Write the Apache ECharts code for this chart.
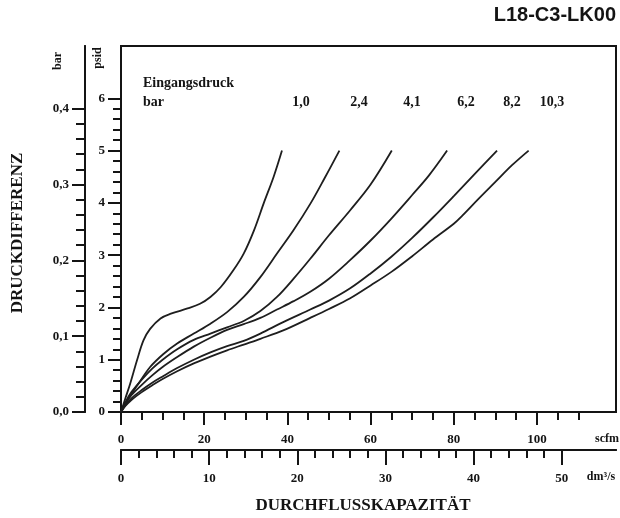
<!DOCTYPE html>
<html>
<head>
<meta charset="utf-8">
<script src="https://cdn.jsdelivr.net/npm/echarts@6/dist/echarts.min.js"></script>
<style>
html,body{margin:0;padding:0;background:#fff;}
#chart{width:620px;height:518px;}
</style>
</head>
<body>
<div id="chart"></div>
<script>
// Inlet pressure curves (Eingangsdruck, bar): [scfm, psid]
const pressureLabels = ['1,0', '2,4', '4,1', '6,2', '8,2', '10,3'];
const curve10 = [[0,0],[1,0.25],[2.2,0.54],[3.85,0.99],[5.4,1.37],[7,1.59],[9.5,1.79],[12,1.88],[16,1.98],[19,2.07],[21.5,2.2],[24,2.39],[27,2.71],[29.5,3.03],[32,3.48],[34.3,3.99],[36.7,4.5],[38.7,5.0]];
const curve24 = [[0,0],[1.5,0.22],[3.85,0.5],[7,0.86],[10.2,1.11],[13.5,1.31],[17.5,1.5],[21.5,1.69],[25.5,1.91],[29.5,2.2],[33.5,2.58],[37.5,3.03],[41.5,3.48],[45.5,3.98],[49,4.48],[52.5,5.0]];
const curve41 = [[0,0],[1,0.18],[2.5,0.38],[5,0.62],[7.5,0.83],[10,1.0],[13.5,1.2],[17.5,1.38],[21.5,1.5],[25.5,1.62],[29.5,1.74],[33.5,1.93],[37.5,2.2],[41.5,2.55],[45.5,2.93],[50,3.38],[55,3.85],[60,4.35],[65.1,5.0]];
const curve62 = [[0,0],[1,0.15],[2.5,0.32],[5,0.52],[7.5,0.7],[10,0.86],[13.5,1.05],[17.5,1.25],[21.5,1.42],[25.5,1.57],[29.5,1.68],[33.5,1.8],[37.5,1.96],[41.5,2.12],[45.5,2.3],[50,2.55],[55,2.9],[60,3.28],[65,3.7],[70,4.15],[74,4.52],[78.4,5.0]];
const curve82 = [[0,0],[1,0.12],[2.5,0.26],[5,0.42],[7.5,0.56],[10,0.68],[13.5,0.84],[17.5,1.0],[21.5,1.14],[25.5,1.26],[29.5,1.36],[33.5,1.5],[39,1.72],[45.5,1.96],[50,2.13],[55,2.36],[60,2.65],[65,2.97],[70,3.33],[75,3.72],[80,4.13],[85,4.55],[90.4,5.0]];
const curve103 = [[0,0],[1,0.11],[2.5,0.23],[5,0.38],[7.5,0.51],[10,0.63],[13.5,0.78],[17.5,0.93],[21.5,1.06],[25.5,1.18],[29.5,1.29],[33.5,1.4],[39,1.56],[45.5,1.8],[50,1.97],[55,2.17],[60,2.42],[65,2.68],[70,2.98],[75,3.3],[80,3.6],[82,3.75],[86,4.08],[90,4.4],[94,4.72],[98,5.0]];
const curves = [curve10, curve24, curve41, curve62, curve82, curve103];

// Axis ticks / labels
const scfmMajor = [0, 20, 40, 60, 80, 100];
const scfmMinor = [5,10,15,25,30,35,45,50,55,65,70,75,85,90,95,105,110];
const dmMajor = [0, 10, 20, 30, 40, 50];
const dmMinor = [2,4,6,8,12,14,16,18,22,24,26,28,32,34,36,38,42,44,46,48];
const psidMajor = [0, 1, 2, 3, 4, 5, 6];
const psidMinor = [0.2,0.4,0.6,0.8,1.2,1.4,1.6,1.8,2.2,2.4,2.6,2.8,3.2,3.4,3.6,3.8,4.2,4.4,4.6,4.8,5.2,5.4,5.6,5.8];
const barMajor = [0, 0.1, 0.2, 0.3, 0.4];
const barMinor = [0.02,0.04,0.06,0.08,0.12,0.14,0.16,0.18,0.22,0.24,0.26,0.28,0.32,0.34,0.36,0.38];

const SCFM_MAX = 119;
const PSID_MAX = 7;
const BAR_PER_PSI = 0.0689476;
const DM3S_PER_SCFM = 0.4719474;

const INK = '#141414';
const SERIF = '"Liberation Serif", "DejaVu Serif", serif';

function axisBase(extra) {
  return Object.assign({
    type: 'value',
    gridIndex: 0,
    splitLine: { show: false },
    axisLine: { show: false, onZero: false },
    axisTick: { show: false },
    axisLabel: { show: false }
  }, extra);
}

const chart = echarts.init(document.getElementById('chart'), null, { renderer: 'canvas' });

const tickLabelStyle = { color: INK, fontFamily: SERIF, fontSize: 13, fontWeight: 'bold' };
const tickLine = { color: INK, width: 2 };

const option = {
  animation: false,
  backgroundColor: '#fff',
  grid: {
    left: 121, right: 4, top: 46, bottom: 106,
    show: true, borderColor: INK, borderWidth: 2, backgroundColor: 'transparent'
  },
  xAxis: [
    axisBase({
      min: 0, max: SCFM_MAX, position: 'bottom',
      axisLine: { show: true, onZero: false, lineStyle: tickLine },
      axisTick: { show: true, customValues: scfmMajor, length: 13, lineStyle: tickLine },
      axisLabel: Object.assign({ show: true, customValues: scfmMajor, margin: 21 }, tickLabelStyle)
    }),
    axisBase({
      min: 0, max: SCFM_MAX, position: 'bottom', offset: 0,
      axisLine: { show: true, onZero: false, lineStyle: tickLine },
      axisTick: { show: true, customValues: scfmMinor, length: 8, lineStyle: tickLine }
    }),
    axisBase({
      min: 0, max: SCFM_MAX * DM3S_PER_SCFM, position: 'bottom', offset: 38,
      axisLine: { show: true, onZero: false, lineStyle: tickLine },
      axisTick: { show: true, customValues: dmMajor, length: 15, lineStyle: tickLine },
      axisLabel: Object.assign({ show: true, customValues: dmMajor, margin: 22 }, tickLabelStyle)
    }),
    axisBase({
      min: 0, max: SCFM_MAX * DM3S_PER_SCFM, position: 'bottom', offset: 38,
      axisLine: { show: true, onZero: false, lineStyle: tickLine },
      axisTick: { show: true, customValues: dmMinor, length: 8, lineStyle: tickLine }
    })
  ],
  yAxis: [
    axisBase({
      min: 0, max: PSID_MAX, position: 'left',
      axisLine: { show: true, onZero: false, lineStyle: tickLine },
      axisTick: { show: true, customValues: psidMajor, length: 13, lineStyle: tickLine },
      axisLabel: Object.assign({ show: true, customValues: psidMajor, margin: 16 }, tickLabelStyle)
    }),
    axisBase({
      min: 0, max: PSID_MAX, position: 'left', offset: 0,
      axisLine: { show: true, onZero: false, lineStyle: tickLine },
      axisTick: { show: true, customValues: psidMinor, length: 8, lineStyle: tickLine }
    }),
    axisBase({
      min: 0, max: PSID_MAX * BAR_PER_PSI, position: 'left', offset: 36,
      axisLine: { show: true, onZero: false, lineStyle: tickLine },
      axisTick: { show: true, customValues: barMajor, length: 13, lineStyle: tickLine },
      axisLabel: Object.assign({ show: true, customValues: barMajor, margin: 16,
        formatter: v => v.toFixed(1).replace('.', ',') }, tickLabelStyle)
    }),
    axisBase({
      min: 0, max: PSID_MAX * BAR_PER_PSI, position: 'left', offset: 36,
      axisLine: { show: true, onZero: false, lineStyle: tickLine },
      axisTick: { show: true, customValues: barMinor, length: 9, lineStyle: tickLine }
    })
  ],
  series: curves.map((c, i) => ({
    name: pressureLabels[i],
    type: 'line',
    xAxisIndex: 0,
    yAxisIndex: 0,
    data: c,
    showSymbol: false,
    symbol: 'none',
    smooth: 0.35,
    lineStyle: { color: '#1e1e1e', width: 1.8 }
  })),
  graphic: [
    { type: 'text', right: 4, top: 5, style: { text: 'L18-C3-LK00', fill: INK, font: 'bold 20px "Liberation Sans", Arial, sans-serif' } },
    { type: 'text', x: 18, y: 233, rotation: Math.PI / 2, style: { text: 'DRUCKDIFFERENZ', fill: INK, font: 'bold 17px ' + SERIF, align: 'center', verticalAlign: 'middle' } },
    { type: 'text', x: 363, y: 506, style: { text: 'DURCHFLUSSKAPAZITÄT', fill: INK, font: 'bold 17px ' + SERIF, align: 'center', verticalAlign: 'middle' } },
    { type: 'text', x: 58, y: 61, rotation: Math.PI / 2, style: { text: 'bar', fill: INK, font: 'bold 12px ' + SERIF, align: 'center', verticalAlign: 'middle' } },
    { type: 'text', x: 98, y: 58, rotation: Math.PI / 2, style: { text: 'psid', fill: INK, font: 'bold 12px ' + SERIF, align: 'center', verticalAlign: 'middle' } },
    { type: 'text', x: 607, y: 439, style: { text: 'scfm', fill: INK, font: 'bold 12px ' + SERIF, align: 'center', verticalAlign: 'middle' } },
    { type: 'text', x: 601, y: 477, style: { text: 'dm³/s', fill: INK, font: 'bold 12px ' + SERIF, align: 'center', verticalAlign: 'middle' } },
    { type: 'text', x: 143, y: 83, style: { text: 'Eingangsdruck', fill: INK, font: 'bold 14px ' + SERIF, align: 'left', verticalAlign: 'middle' } },
    { type: 'text', x: 143, y: 102, style: { text: 'bar', fill: INK, font: 'bold 14px ' + SERIF, align: 'left', verticalAlign: 'middle' } }
  ].concat(pressureLabels.map((t, i) => ({
    type: 'text', x: [301, 359, 412, 466, 512, 552][i], y: 102,
    style: { text: t, fill: INK, font: 'bold 14px ' + SERIF, align: 'center', verticalAlign: 'middle' }
  })))
};

chart.setOption(option);
</script>
</body>
</html>
